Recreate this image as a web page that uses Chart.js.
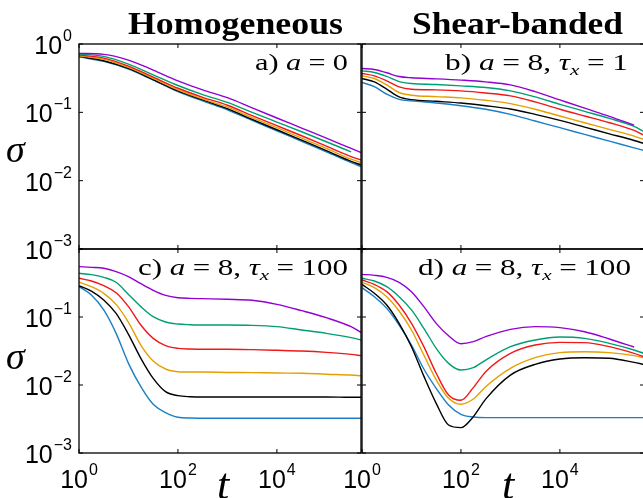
<!DOCTYPE html>
<html>
<head>
<meta charset="utf-8">
<script src="https://cdn.jsdelivr.net/npm/chart.js@4"></script>
<style>
  html, body { margin: 0; padding: 0; background: #fff; }
  body { width: 643px; height: 498px; position: relative; overflow: hidden; }
  canvas { position: absolute; left: 0; top: 0; }
  .txt { position: absolute; white-space: nowrap; line-height: 1; font-family: "Liberation Serif", serif; color: #000; transform-origin: 0 0; }
  .title { font-weight: bold; font-size: 31px; }
  .note { font-size: 23px; }
  .eq { margin: 0 0.24em; }
  .note sub { font-size: 0.68em; vertical-align: baseline; position: relative; top: 0.3em; }
  .axlab { font-style: italic; font-size: 38px; }
  .tlab { font-style: italic; font-size: 44px; }
</style>
</head>
<body>
<canvas id="pa" width="700" height="498"></canvas>
<canvas id="pb" width="700" height="498"></canvas>
<canvas id="pc" width="700" height="498"></canvas>
<canvas id="pd" width="700" height="498"></canvas>

<div class="txt title" style="left:128px; top:8px" data-w="215">Homogeneous</div>
<div class="txt title" style="left:412px; top:8px" data-w="211">Shear-banded</div>
<div class="txt note" style="left:255px; top:51px" data-w="93">a) <i>a</i><span class="eq">=</span>0</div>
<div class="txt note" style="left:445px; top:51px" data-w="183">b) <i>a</i><span class="eq">=</span>8, <i>τ<sub>x</sub></i><span class="eq">=</span>1</div>
<div class="txt note" style="left:138px; top:256px" data-w="210">c) <i>a</i><span class="eq">=</span>8, <i>τ<sub>x</sub></i><span class="eq">=</span>100</div>
<div class="txt note" style="left:418px; top:256px" data-w="213">d) <i>a</i><span class="eq">=</span>8, <i>τ<sub>x</sub></i><span class="eq">=</span>100</div>
<div class="txt axlab" style="left:6px; top:130px">σ</div>
<div class="txt axlab" style="left:6px; top:337px">σ</div>
<div class="txt tlab" style="left:217px; top:463px">t</div>
<div class="txt tlab" style="left:502px; top:463px">t</div>

<script>
// axis ticks
const xTicks = [1, 100, 10000];
const xTickExp = ["0", "2", "4"];
const yTicks = [1, 0.1, 0.01, 0.001];
const yTickExp = ["0", "\u22121", "\u22122", "\u22123"];

// a) homogeneous, a = 0
const tA = [1, 3.162, 10, 31.62, 100, 316.2, 1000, 3162, 10000, 31623, 100000, 316228, 501187];
const aPurple = [0.73, 0.705, 0.582, 0.415, 0.289, 0.213, 0.164, 0.116, 0.0826, 0.0589, 0.042, 0.0296, 0.0258];
const aGreen = [0.713, 0.659, 0.508, 0.354, 0.247, 0.182, 0.14, 0.1, 0.0721, 0.052, 0.0371, 0.0264, null];
const aRed = [0.689, 0.622, 0.474, 0.327, 0.225, 0.166, 0.127, 0.0893, 0.0637, 0.0454, 0.032, 0.0225, 0.0201];
const aOrange = [0.673, 0.596, 0.454, 0.313, 0.213, 0.157, 0.119, 0.0836, 0.0596, 0.042, 0.0296, 0.0206, 0.0184];
const aBlack = [0.659, 0.569, 0.439, 0.302, 0.206, 0.152, 0.113, 0.0789, 0.0556, 0.0392, 0.0276, 0.0192, 0.017];
const aBlue = [0.651, 0.556, 0.429, 0.296, 0.201, 0.147, 0.109, 0.0762, 0.0537, 0.0375, 0.0264, 0.0184, 0.0161];

// b) shear-banded, a = 8, tau_x = 1
const tB = [1, 1.778, 3.162, 5.623, 10, 31.62, 100, 316.2, 1000, 3162, 10000, 31623, 100000, 316228, 501187];
const bPurple = [0.439, 0.424, 0.379, 0.334, 0.32, 0.309, 0.296, 0.279, 0.252, 0.201, 0.152, 0.115, 0.0873, 0.0651, null];
const bGreen = [0.405, 0.383, 0.335, 0.282, 0.264, 0.255, 0.244, 0.231, 0.206, 0.168, 0.131, 0.1035, 0.0816, 0.0622, 0.052];
const bRed = [0.371, 0.342, 0.289, 0.236, 0.218, 0.213, 0.206, 0.192, 0.174, 0.142, 0.111, 0.0883, 0.0705, 0.0543, 0.0464];
const bOrange = [0.342, 0.313, 0.252, 0.195, 0.178, 0.17, 0.163, 0.15, 0.134, 0.111, 0.0883, 0.0705, 0.0562, 0.0449, 0.0401];
const bBlack = [0.313, 0.279, 0.218, 0.168, 0.1535, 0.145, 0.137, 0.125, 0.112, 0.0935, 0.0762, 0.0608, 0.0485, 0.0387, 0.035];
const bBlue = [0.273, 0.238, 0.184, 0.155, 0.147, 0.137, 0.125, 0.111, 0.0935, 0.0746, 0.0596, 0.0475, 0.0379, 0.0302, 0.0276];

// c) and d) a = 8, tau_x = 100
const tCD = [1, 1.778, 3.162, 5.623, 10, 17.78, 31.62, 56.23, 100, 177.8, 316.2, 1000, 3162, 10000, 31623, 100000, 316228, 501187];
const cPurple = [0.55, 0.537, 0.52, 0.464, 0.392, 0.309, 0.247, 0.208, 0.192, 0.188, 0.186, 0.182, 0.176, 0.1535, 0.124, 0.0977, 0.0721, 0.0596];
const cGreen = [0.439, 0.42, 0.383, 0.324, 0.215, 0.142, 0.101, 0.0844, 0.0789, 0.0771, 0.0762, 0.0762, 0.0754, 0.0721, 0.0644, 0.0575, 0.0497, 0.0459];
const cRed = [0.371, 0.338, 0.289, 0.228, 0.142, 0.0762, 0.0485, 0.0379, 0.0346, 0.0338, 0.0335, 0.0335, 0.0331, 0.0324, 0.0316, 0.0302, 0.0282, 0.027];
const cOrange = [0.324, 0.279, 0.223, 0.1535, 0.0835, 0.0387, 0.0225, 0.0172, 0.0157, 0.0155, 0.0155, 0.0153, 0.0152, 0.015, 0.0149, 0.0144, 0.014, 0.0137];
const cBlack = [0.289, 0.241, 0.178, 0.113, 0.0556, 0.0247, 0.0125, 0.00798, 0.00697, 0.00673, 0.00667, 0.00667, 0.00667, 0.00667, 0.00667, 0.00667, 0.00659, 0.00659];
const cBlue = [0.279, 0.211, 0.127, 0.0575, 0.0208, 0.00945, 0.0052, 0.00392, 0.00335, 0.00327, 0.00324, 0.00324, 0.00324, 0.00324, 0.00324, 0.00324, 0.00324, 0.00324];

const dPurple = [0.424, 0.41, 0.383, 0.324, 0.236, 0.142, 0.0807, 0.0531, 0.0405, 0.0434, 0.0514, 0.0659, 0.0721, 0.0697, 0.0608, 0.0475, 0.0362, null];
const dGreen = [0.371, 0.338, 0.279, 0.199, 0.127, 0.0681, 0.0346, 0.0208, 0.0166, 0.018, 0.0233, 0.0366, 0.0459, 0.0508, 0.0485, 0.041, 0.0327, 0.0292];
const dRed = [0.35, 0.302, 0.236, 0.15, 0.0807, 0.0366, 0.0149, 0.00713, 0.00596, 0.00914, 0.0157, 0.0292, 0.0387, 0.0424, 0.042, 0.0366, 0.0292, 0.0261];
const dOrange = [0.324, 0.27, 0.199, 0.1225, 0.0644, 0.0276, 0.0119, 0.00637, 0.0052, 0.00622, 0.00945, 0.0176, 0.0252, 0.0299, 0.0309, 0.0299, 0.027, 0.0252];
const dBlack = [0.302, 0.223, 0.15, 0.0807, 0.0366, 0.0135, 0.00537, 0.00258, 0.00236, 0.00342, 0.0062, 0.014, 0.0201, 0.0241, 0.0252, 0.0247, 0.0215, 0.0201];
const dBlue = [0.27, 0.199, 0.134, 0.0762, 0.0387, 0.0172, 0.00893, 0.00508, 0.00371, 0.00338, 0.00331, 0.00331, 0.00331, 0.00331, 0.00331, 0.00331, 0.00331, 0.00331];

const colors = {
  purple: "#9400d3",
  green: "#009e73",
  red: "#f01818",
  orange: "#e69f00",
  black: "#000000",
  blue: "#1a7fc6",
};

function datasets(t, s) {
  return Object.keys(s).map((name) => ({
    label: name,
    data: t.map((x, i) => ({ x: x, y: s[name][i] })),
    borderColor: colors[name],
    borderWidth: 1.4,
    pointRadius: 0,
    fill: false,
    spanGaps: false,
    cubicInterpolationMode: "monotone",
  }));
}

const bigFont = "25px 'Liberation Sans', Arial, sans-serif";
const supFont = "16px 'Liberation Sans', Arial, sans-serif";

function drawPow(ctx, exp, x, yMid, align) {
  ctx.font = bigFont;
  const w1 = ctx.measureText("10").width;
  ctx.font = supFont;
  const w2 = ctx.measureText(exp).width;
  const total = w1 + 1 + w2;
  const x0 = align === "right" ? x - total : x - total / 2;
  const base = yMid + 9;
  ctx.textAlign = "left";
  ctx.textBaseline = "alphabetic";
  ctx.font = bigFont;
  ctx.fillText("10", x0, base);
  ctx.font = supFont;
  ctx.fillText(exp, x0 + w1 + 1, base - 13);
}

// box, inward ticks and 10^n labels
const frame = {
  id: "frame",
  afterDraw(chart, args, opts) {
    const ctx = chart.ctx;
    const a = chart.chartArea;
    const x = chart.scales.x;
    const y = chart.scales.y;
    ctx.save();
    ctx.strokeStyle = "#000";
    ctx.lineWidth = 1;
    ctx.beginPath();
    xTicks.forEach((v) => {
      const px = x.getPixelForValue(v);
      ctx.moveTo(px, a.bottom); ctx.lineTo(px, a.bottom - 4);
      ctx.moveTo(px, a.top); ctx.lineTo(px, a.top + 4);
    });
    yTicks.forEach((v) => {
      const py = y.getPixelForValue(v);
      ctx.moveTo(a.left, py); ctx.lineTo(a.left + 4, py);
      ctx.moveTo(a.right, py); ctx.lineTo(a.right - 4, py);
    });
    ctx.stroke();
    ctx.lineWidth = 1.3;
    ctx.strokeRect(a.left, a.top, a.right - a.left, a.bottom - a.top);
    ctx.fillStyle = "#000";
    (opts.yLabels || []).forEach((i) => {
      drawPow(ctx, yTickExp[i], a.left - 7, y.getPixelForValue(yTicks[i]) + 1, "right");
    });
    (opts.xLabels || []).forEach((i) => {
      drawPow(ctx, xTickExp[i], x.getPixelForValue(xTicks[i]), a.bottom + 25.5, "center");
    });
    ctx.restore();
  },
};

function panel(id, area, t, s, labels) {
  return new Chart(document.getElementById(id), {
    type: "line",
    data: { datasets: datasets(t, s) },
    options: {
      responsive: false,
      animation: false,
      devicePixelRatio: 1,
      layout: {
        padding: { left: area.left, top: area.top, right: 700 - area.right, bottom: 498 - area.bottom },
      },
      plugins: {
        legend: { display: false },
        tooltip: { enabled: false },
        frame: labels,
      },
      scales: {
        x: { type: "logarithmic", min: 1, max: 501187, display: false },
        y: { type: "logarithmic", min: 0.001, max: 1, display: false },
      },
    },
    plugins: [frame],
  });
}

panel("pa", { left: 79, top: 44, right: 361, bottom: 249 }, tA,
  { purple: aPurple, green: aGreen, red: aRed, orange: aOrange, black: aBlack, blue: aBlue },
  { yLabels: [0, 1, 2, 3] });
panel("pb", { left: 362, top: 44, right: 644, bottom: 249 }, tB,
  { purple: bPurple, green: bGreen, red: bRed, orange: bOrange, black: bBlack, blue: bBlue },
  {});
panel("pc", { left: 79, top: 249, right: 361, bottom: 453 }, tCD,
  { purple: cPurple, green: cGreen, red: cRed, orange: cOrange, black: cBlack, blue: cBlue },
  { yLabels: [1, 2, 3], xLabels: [0, 1, 2] });
panel("pd", { left: 362, top: 249, right: 644, bottom: 453 }, tCD,
  { purple: dPurple, green: dGreen, red: dRed, orange: dOrange, black: dBlack, blue: dBlue },
  { xLabels: [0, 1, 2] });

// stretch the serif texts to the widths seen in the figure
function fitTexts() {
  document.querySelectorAll("[data-w]").forEach((el) => {
    el.style.transform = "none";
    const w = el.getBoundingClientRect().width;
    el.style.transform = "scaleX(" + (Number(el.dataset.w) / w) + ")";
  });
}
fitTexts();
document.fonts.ready.then(fitTexts);
</script>
</body>
</html>
